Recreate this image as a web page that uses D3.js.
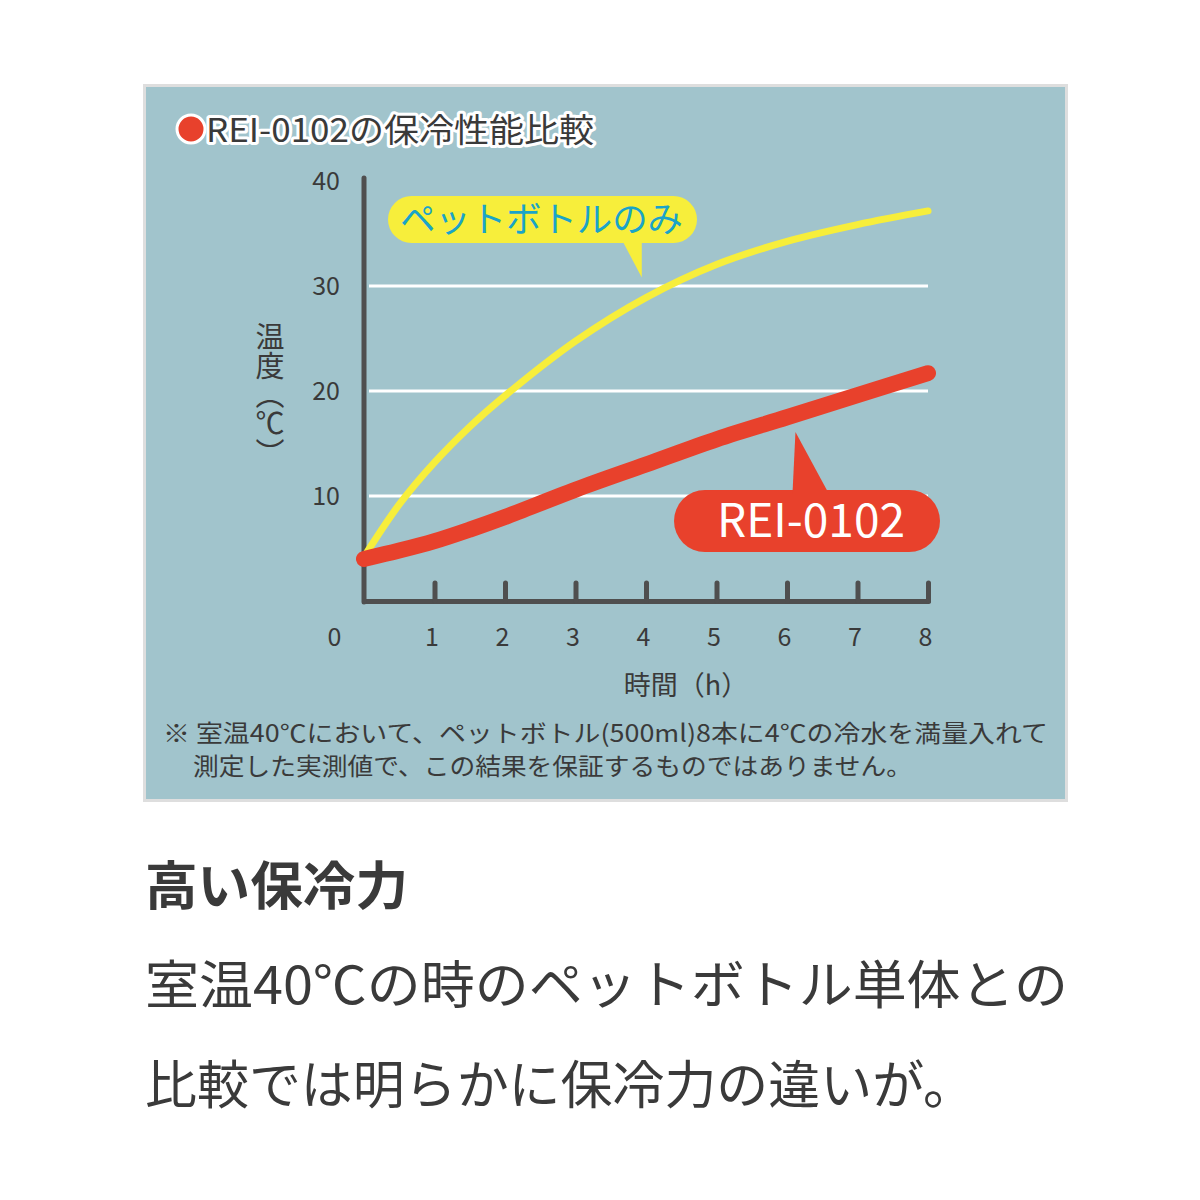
<!DOCTYPE html>
<html>
<head>
<meta charset="utf-8">
<script src="https://cdn.jsdelivr.net/npm/d3@7"></script>
<style>
  body { margin:0; background:#fff; }
  svg text { font-family:"Noto Sans CJK JP","Noto Sans",sans-serif; }
</style>
</head>
<body>
<div id="chart"></div>
<script>
// 経過時間 (h)
var hours = [0, 0.5, 1, 1.5, 2, 3, 4, 5, 6, 7, 8];
// ペットボトルのみ
var petOnly = [4.2, 9.2, 13.2, 16.6, 19.55, 24.75, 28.9, 32.05, 34.25, 35.85, 37.15];
// REI-0102
var rei = [4, 4.8, 5.7, 6.8, 8.0, 10.6, 13.0, 15.4, 17.5, 19.6, 21.7];
var xTicks = [0, 1, 2, 3, 4, 5, 6, 7, 8];
var yTicks = [10, 20, 30, 40];
var gridTicks = [10, 20, 30];

var W = 1200, H = 1200;
var ink = "#3a3a3a", axisCol = "#4f4f4f";
var red = "#e8412c", yellow = "#f7ee3b", teal = "#1aa4c8";

var svg = d3.select("#chart").append("svg")
  .attr("width", W).attr("height", H);

svg.append("rect").attr("width", W).attr("height", H).attr("fill", "#fff");

// パネル
svg.append("rect")
  .attr("x", 144.5).attr("y", 85.5).attr("width", 922).attr("height", 715)
  .attr("fill", "#a1c4cc").attr("stroke", "#dedede").attr("stroke-width", 3);

var x = d3.scaleLinear().domain([0, 8]).range([364, 928]);
var y = d3.scaleLinear().domain([0, 40]).range([601, 181]);

// タイトル
var title = svg.append("g");
title.append("circle").attr("cx", 191).attr("cy", 129).attr("r", 14)
  .attr("fill", red).attr("stroke", "#fff").attr("stroke-width", 3);
title.append("text").attr("x", 206).attr("y", 142)
  .attr("font-size", 33).attr("fill", ink)
  .attr("stroke", "#fff").attr("stroke-width", 6).attr("stroke-linejoin", "round")
  .attr("paint-order", "stroke")
  .attr("textLength", 388).attr("lengthAdjust", "spacingAndGlyphs")
  .text("REI-0102の保冷性能比較");

// グリッド線
svg.append("g").selectAll("line").data(gridTicks).enter().append("line")
  .attr("x1", x(0) + 5).attr("x2", x(8))
  .attr("y1", function(d){ return y(d); }).attr("y2", function(d){ return y(d); })
  .attr("stroke", "#fff").attr("stroke-width", 3);

// 軸
var gx = svg.append("g").attr("transform", "translate(0," + y(0) + ")")
  .call(d3.axisBottom(x).tickValues(xTicks).tickSizeInner(-18).tickSizeOuter(0).tickPadding(27)
    .tickFormat(d3.format("d")));
gx.select(".domain").attr("stroke", axisCol).attr("stroke-width", 5).attr("stroke-linecap", "round");
gx.selectAll(".tick line").attr("stroke", axisCol).attr("stroke-width", 5).attr("stroke-linecap", "round");
gx.selectAll(".tick text").attr("font-size", 25).attr("fill", ink)
  .attr("font-family", "'Noto Sans CJK JP',sans-serif").attr("dx", -3);
gx.selectAll(".tick").filter(function(d){ return d === 0; })
  .each(function(){
    d3.select(this).select("line").remove();
    d3.select(this).select("text").attr("dx", -30);
  });

var gy = svg.append("g").attr("transform", "translate(" + x(0) + ",0)")
  .call(d3.axisLeft(y).tickValues(yTicks).tickSize(0).tickPadding(24));
gy.select(".domain").attr("stroke", axisCol).attr("stroke-width", 5).attr("stroke-linecap", "round")
  .attr("d", "M0," + (y(40) - 3) + "V" + (y(0) + 1));
gy.selectAll(".tick text").attr("font-size", 25).attr("fill", ink)
  .attr("font-family", "'Noto Sans CJK JP',sans-serif");

// 軸タイトル
svg.append("text").attr("x", 270).attr("y", 322)
  .attr("font-size", 29).attr("fill", ink)
  .style("writing-mode", "vertical-rl")
  .text("温度（℃）");
svg.append("text").attr("x", 686).attr("y", 695)
  .attr("text-anchor", "middle").attr("font-size", 27).attr("fill", ink)
  .text("時間（h）");

// 折れ線
var line = d3.line().curve(d3.curveCatmullRom.alpha(0.5))
  .x(function(d){ return x(d[0]); }).y(function(d){ return y(d[1]); });

svg.append("path").datum(d3.zip(hours, petOnly))
  .attr("d", line).attr("fill", "none").attr("stroke", yellow)
  .attr("stroke-width", 7).attr("stroke-linecap", "round");
svg.append("path").datum(d3.zip(hours, rei))
  .attr("d", line).attr("fill", "none").attr("stroke", red)
  .attr("stroke-width", 16).attr("stroke-linecap", "round");

// 吹き出し
function bubble(o){
  var g = svg.append("g");
  g.append("rect").attr("x", o.x).attr("y", o.y).attr("width", o.w).attr("height", o.h)
    .attr("rx", o.h / 2).attr("fill", o.fill);
  g.append("path").attr("d", "M" + o.tail.map(function(p){ return p.join(","); }).join("L") + "Z")
    .attr("fill", o.fill);
  g.append("text").attr("x", o.x + o.w / 2 + (o.dx || 0)).attr("y", o.y + o.h / 2)
    .attr("dy", "0.35em").attr("text-anchor", "middle")
    .attr("font-size", o.size).attr("fill", o.color)
    .attr("textLength", o.tl).attr("lengthAdjust", "spacingAndGlyphs")
    .text(o.label);
}

var yTip = [x(3.94), y(30.8)];
bubble({x: 388, y: 196, w: 309, h: 47, fill: yellow, color: teal, size: 35, tl: 283, dx: -1,
  label: "ペットボトルのみ",
  tail: [[622, 240], yTip, [yTip[0], 240]]});

var rTip = [x(6.12), y(16.1)];
bubble({x: 674, y: 490, w: 266, h: 62, fill: red, color: "#fff", size: 46, tl: 188, dx: 4,
  label: "REI-0102",
  tail: [[rTip[0] - 3, 494], rTip, [829, 494]]});

// 注記
svg.append("text").attr("x", 163).attr("y", 742)
  .attr("font-size", 24).attr("fill", ink)
  .attr("textLength", 885).attr("lengthAdjust", "spacingAndGlyphs")
  .text("※ 室温40℃において、ペットボトル(500ml)8本に4℃の冷水を満量入れて");
svg.append("text").attr("x", 193).attr("y", 775)
  .attr("font-size", 24).attr("fill", ink)
  .attr("textLength", 719).attr("lengthAdjust", "spacingAndGlyphs")
  .text("測定した実測値で、この結果を保証するものではありません。");

// 本文
svg.append("text").attr("x", 145).attr("y", 905)
  .attr("font-size", 52).attr("font-weight", "bold").attr("fill", ink)
  .attr("textLength", 263).attr("lengthAdjust", "spacingAndGlyphs")
  .text("高い保冷力");
svg.append("text").attr("x", 145).attr("y", 1004)
  .attr("font-size", 52).attr("fill", ink)
  .attr("textLength", 923).attr("lengthAdjust", "spacingAndGlyphs")
  .text("室温40℃の時のペットボトル単体との");
svg.append("text").attr("x", 145).attr("y", 1104)
  .attr("font-size", 52).attr("fill", ink)
  .attr("textLength", 830).attr("lengthAdjust", "spacingAndGlyphs")
  .text("比較では明らかに保冷力の違いが。");
</script>
</body>
</html>
